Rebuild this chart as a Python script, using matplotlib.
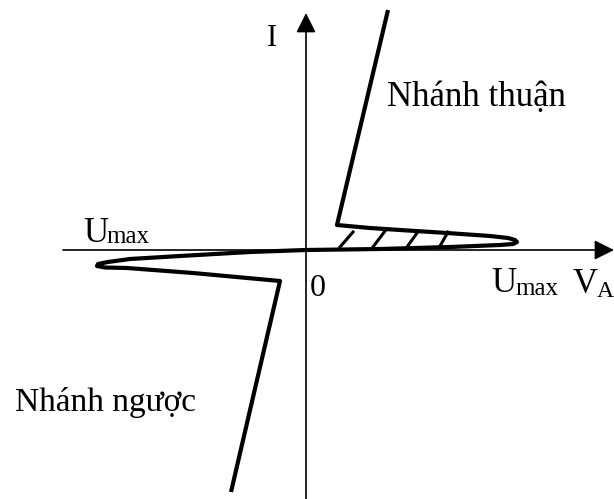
import numpy as np
import matplotlib
matplotlib.use("Agg")
import matplotlib.pyplot as plt

plt.rcParams['font.family'] = ['Liberation Serif', 'DejaVu Serif']

# characteristic curve, origin at the axis crossing, y up (pixel-ish units)
# forward branch: from top, down to knee, along the upper edge of the nose, back to 0
fwd_x = [82, 31, 64, 94, 141, 184, 202, 209, 211, 207, 194, 144, 74, 0]
fwd_y = [240, 25, 22, 20, 17, 14, 12, 10, 8, 6, 5, 3, 1, 0]
# reverse branch: from 0 out to the left tip, back to the knee, down to the bottom
rev_x = [-56, -126, -176, -198, -208, -209, -201, -179, -113, -26, -75]
rev_y = [-2, -6, -9, -12, -14, -16, -17.5, -18, -23, -31, -242]

# hatch strokes inside the forward nose
hatch_x0 = [34, 67, 101, 134]
hatch_y0 = [3, 3, 3, 4]
hatch_x1 = [47, 79, 111, 142]
hatch_y1 = [18, 19, 17, 18]

cx = fwd_x + rev_x
cy = fwd_y + rev_y

fig = plt.figure(figsize=(6.14, 4.99), dpi=100)
ax = fig.add_axes([0, 0, 1, 1])
ax.set_xlim(-306, 308)
ax.set_ylim(-249, 250)
ax.axis('off')

# axes with arrows
ax.annotate('', xy=(308, 0), xytext=(-243, 0),
            arrowprops=dict(arrowstyle='-|>,head_length=0.6,head_width=0.3',
                            lw=1.2, color='black', mutation_scale=20,
                            shrinkA=0, shrinkB=0))
ax.annotate('', xy=(0, 237), xytext=(0, -249),
            arrowprops=dict(arrowstyle='-|>,head_length=0.6,head_width=0.3',
                            lw=1.2, color='black', mutation_scale=20,
                            shrinkA=0, shrinkB=0))

ax.plot(cx, cy, color='black', lw=3.0, solid_joinstyle='round',
        solid_capstyle='butt')
for a, b, c, d in zip(hatch_x0, hatch_y0, hatch_x1, hatch_y1):
    ax.plot([a, c], [b, d], color='black', lw=2.2)

ax.text(81, 144, 'Nhánh thuận', fontsize=25, va='baseline', ha='left')
ax.text(-291, -161, 'Nhánh ngược', fontsize=24, va='baseline', ha='left')
ax.text(-39, 204, 'I', fontsize=22, va='baseline', ha='left')
ax.text(4, -46, '0', fontsize=23, va='baseline', ha='left')
ax.text(-223, 8, 'U', fontsize=25, va='baseline', ha='left')
ax.text(-200, 7, 'max', fontsize=18, va='baseline', ha='left')
ax.text(185, -42, 'U', fontsize=25, va='baseline', ha='left')
ax.text(209, -45, 'max', fontsize=18, va='baseline', ha='left')
ax.text(267, -43, 'V', fontsize=25, va='baseline', ha='left')
ax.text(291, -47, 'A', fontsize=17, va='baseline', ha='left')

fig.savefig('out.png', dpi=100)
